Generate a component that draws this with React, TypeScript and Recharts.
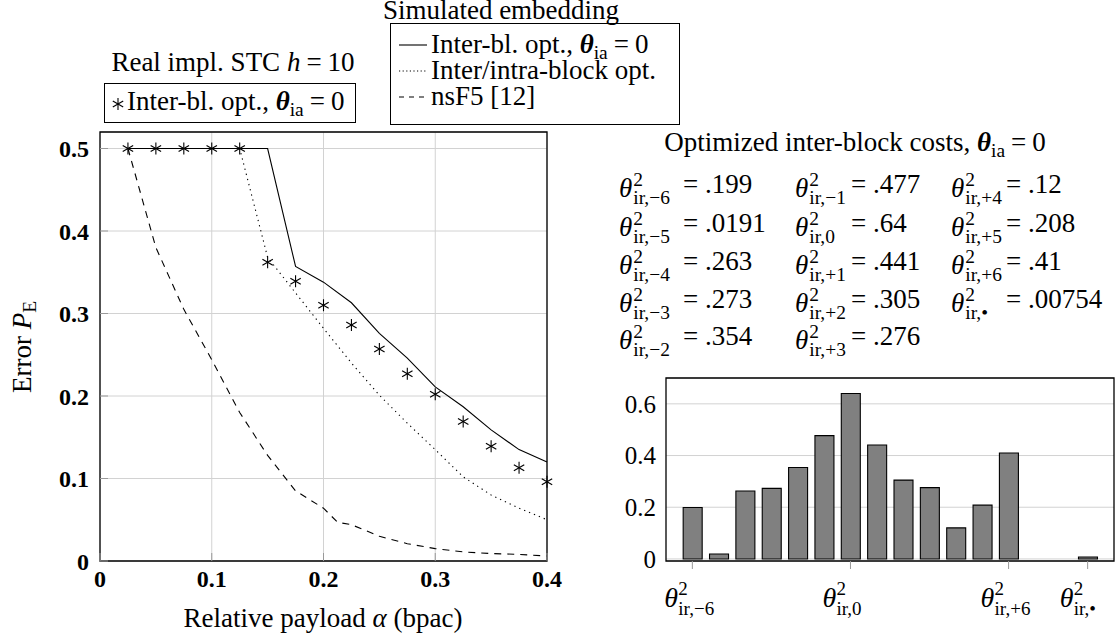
import React from "react";
import {
  Bar,
  BarChart,
  CartesianGrid,
  ComposedChart,
  Line,
  ReferenceArea,
  Scatter,
  XAxis,
  YAxis,
} from "recharts";

const FONT = '"Liberation Serif", "DejaVu Serif", serif';

// left panel: error vs relative payload
const alpha = [0.025, 0.05, 0.075, 0.1, 0.125, 0.15, 0.175, 0.2, 0.225, 0.25, 0.275, 0.3, 0.325, 0.35, 0.375, 0.4];
const interBlSim = [0.5, 0.5, 0.5, 0.5, 0.5, 0.5, 0.357, 0.338, 0.313, 0.276, 0.246, 0.211, 0.187, 0.159, 0.135, 0.12];
const interIntraSim = [0.5, 0.5, 0.5, 0.5, 0.5, 0.368, 0.325, 0.282, 0.24, 0.201, 0.167, 0.135, 0.102, 0.08, 0.064, 0.05];
const interBlReal = [0.5, 0.5, 0.5, 0.5, 0.5, 0.362, 0.339, 0.31, 0.286, 0.257, 0.227, 0.202, 0.169, 0.139, 0.113, 0.096];
const nsf5Alpha = [0.025, 0.05, 0.075, 0.1, 0.125, 0.15, 0.175, 0.2, 0.2125, 0.225, 0.25, 0.275, 0.3, 0.325, 0.35, 0.375, 0.4];
const nsf5 = [0.5, 0.38, 0.305, 0.244, 0.18, 0.128, 0.085, 0.064, 0.047, 0.044, 0.03, 0.021, 0.015, 0.011, 0.009, 0.008, 0.006];
const xTicks = [0, 0.1, 0.2, 0.3, 0.4];
const yTicks = [0, 0.1, 0.2, 0.3, 0.4, 0.5];

// right panel: optimized inter-block costs
const barPos = [-6, -5, -4, -3, -2, -1, 0, 1, 2, 3, 4, 5, 6, 9];
const barSubs = ["−6", "−5", "−4", "−3", "−2", "−1", "0", "+1", "+2", "+3", "+4", "+5", "+6", "•"];
const barValues = [0.199, 0.0191, 0.263, 0.273, 0.354, 0.477, 0.64, 0.441, 0.305, 0.276, 0.12, 0.208, 0.41, 0.00754];
const barTicks = [-6, 0, 6, 9];
const barYTicks = [0, 0.2, 0.4, 0.6];

const pts = (xs: number[], ys: number[]) => xs.map((a, i) => ({ a, p: ys[i] }));
const barData = barPos.map((x, i) => ({ x, v: barValues[i] }));

const colLeft = [619, 795, 951];
const colEq = [683, 851, 1006];
const rowY = [188, 227, 265, 303, 340];

function Asterisk(props: any) {
  const { cx, cy } = props;
  return (
    <g stroke="#000" strokeWidth={1.1}>
      <line x1={cx} y1={cy - 6} x2={cx} y2={cy + 6} />
      <line x1={cx - 5.2} y1={cy - 3} x2={cx + 5.2} y2={cy + 3} />
      <line x1={cx - 5.2} y1={cy + 3} x2={cx + 5.2} y2={cy - 3} />
    </g>
  );
}

function Th({ sub }: { sub: string }) {
  return (
    <span>
      <i>θ</i>
      <span
        style={{
          display: "inline-block",
          verticalAlign: "-0.37em",
          fontSize: "0.72em",
          lineHeight: 0.92,
          marginLeft: 1,
        }}
      >
        <span style={{ display: "block" }}>2</span>
        <span style={{ display: "block" }}>{sub}</span>
      </span>
    </span>
  );
}

const Eq = () => <span style={{ margin: "0 6px" }}>=</span>;

const ThetaIa = () => (
  <span>
    <b>
      <i>θ</i>
    </b>
    <span style={{ fontSize: "0.72em", verticalAlign: "-0.3em" }}>ia</span>
  </span>
);

function At({ x, y, center, children }: { x: number; y: number; center?: boolean; children: React.ReactNode }) {
  return (
    <div
      style={{
        position: "absolute",
        left: x,
        top: y - 17,
        lineHeight: "27px",
        whiteSpace: "nowrap",
        transform: center ? "translateX(-50%)" : undefined,
      }}
    >
      {children}
    </div>
  );
}

function ThetaTick(props: any) {
  const { x, y, payload } = props;
  const i = barPos.indexOf(payload.value);
  return (
    <g fontFamily={FONT} fill="#000">
      <text x={x - 28} y={y + 38} fontSize={28} fontStyle="italic">
        θ
      </text>
      <text x={x - 14} y={y + 26} fontSize={19}>
        2
      </text>
      <text x={x - 14} y={y + 46} fontSize={19}>
        {"ir," + barSubs[i]}
      </text>
    </g>
  );
}

function Sample({ dash }: { dash?: string }) {
  return (
    <svg width={30} height={10} style={{ position: "absolute", left: 8, top: 9 }}>
      <line x1={0} y1={5} x2={28} y2={5} stroke="#000" strokeWidth={1.1} strokeDasharray={dash} />
    </svg>
  );
}

export default function App() {
  return (
    <div
      style={{
        position: "absolute",
        left: 0,
        top: 0,
        width: 1120,
        height: 638,
        background: "#fff",
        fontFamily: FONT,
        fontSize: 27,
        color: "#000",
        overflow: "hidden",
      }}
    >
      {/* left plot */}
      <div style={{ position: "absolute", left: 0, top: 0 }}>
        <ComposedChart width={600} height={638} margin={{ top: 132, right: 53, bottom: 37, left: 0 }}>
          <CartesianGrid stroke="#d2d2d2" strokeWidth={1} />
          <XAxis
            dataKey="a"
            type="number"
            domain={[0, 0.4]}
            ticks={xTicks}
            height={40}
            axisLine={false}
            tickLine={{ stroke: "#999" }}
            tickSize={-8}
            tickMargin={17}
            tick={{ fontSize: 24, fontWeight: 700, fill: "#000", fontFamily: FONT }}
          />
          <YAxis
            type="number"
            domain={[0, 0.52]}
            ticks={yTicks}
            width={100}
            axisLine={false}
            tickLine={{ stroke: "#999" }}
            tickSize={-8}
            tickMargin={19}
            tick={{ fontSize: 24, fontWeight: 700, fill: "#000", fontFamily: FONT }}
          />
          <ReferenceArea x1={0} x2={0.4} y1={0} y2={0.52} fill="none" stroke="#000" strokeWidth={1.3} ifOverflow="visible" />
          <Line data={pts(nsf5Alpha, nsf5)} dataKey="p" type="linear" stroke="#000" strokeWidth={1.1} strokeDasharray="7 6" dot={false} isAnimationActive={false} />
          <Line data={pts(alpha, interIntraSim)} dataKey="p" type="linear" stroke="#000" strokeWidth={1.1} strokeDasharray="1.3 4" dot={false} isAnimationActive={false} />
          <Line data={pts(alpha, interBlSim)} dataKey="p" type="linear" stroke="#000" strokeWidth={1.1} dot={false} isAnimationActive={false} />
          <Scatter data={pts(alpha, interBlReal)} dataKey="p" shape={<Asterisk />} isAnimationActive={false} />
        </ComposedChart>
      </div>

      {/* bar plot */}
      <div style={{ position: "absolute", left: 560, top: 350 }}>
        <BarChart width={560} height={288} data={barData} margin={{ top: 28, right: 6, bottom: 17, left: 0 }}>
          <CartesianGrid stroke="#d2d2d2" vertical={false} />
          <XAxis
            dataKey="x"
            type="number"
            domain={[-7, 10]}
            ticks={barTicks}
            height={60}
            axisLine={false}
            tickLine={{ stroke: "#999" }}
            tickSize={8}
            tickMargin={0}
            tick={<ThetaTick />}
          />
          <XAxis
            xAxisId="top"
            dataKey="x"
            type="number"
            orientation="top"
            domain={[-7, 10]}
            ticks={barTicks}
            height={0}
            axisLine={false}
            tickLine={{ stroke: "#999" }}
            tickSize={8}
            tick={false}
          />
          <YAxis
            type="number"
            domain={[-0.008, 0.7]}
            ticks={barYTicks}
            width={106}
            axisLine={false}
            tickLine={false}
            tickSize={0}
            tickMargin={10}
            tick={{ fontSize: 25, fill: "#000", fontFamily: FONT }}
          />
          <ReferenceArea x1={-7} x2={10} y1={-0.008} y2={0.7} fill="none" stroke="#000" strokeWidth={1.3} ifOverflow="visible" />
          <Bar dataKey="v" barSize={19} fill="#808080" stroke="#000" strokeWidth={1.1} isAnimationActive={false} />
        </BarChart>
      </div>

      {/* titles and legends */}
      <At x={501} y={14} center>
        Simulated embedding
      </At>
      <At x={233} y={66} center>
        Real impl. STC <i>h</i>
        <Eq />
        10
      </At>

      <div style={{ position: "absolute", left: 104, top: 83, width: 250, height: 38, border: "1.3px solid #000" }}>
        <svg width={14} height={14} style={{ position: "absolute", left: 6, top: 13 }}>
          <Asterisk cx={7} cy={7} />
        </svg>
        <div style={{ position: "absolute", left: 22, top: 4, lineHeight: "27px", whiteSpace: "nowrap" }}>
          Inter-bl. opt., <ThetaIa />
          <Eq />0
        </div>
      </div>

      <div style={{ position: "absolute", left: 390, top: 23, width: 288, height: 100, border: "1.3px solid #000" }}>
        <div style={{ position: "absolute", left: 0, top: 7, width: 288, height: 26 }}>
          <Sample />
          <div style={{ position: "absolute", left: 40, top: 0, lineHeight: "27px", whiteSpace: "nowrap" }}>
            Inter-bl. opt., <ThetaIa />
            <Eq />0
          </div>
        </div>
        <div style={{ position: "absolute", left: 0, top: 33, width: 288, height: 26 }}>
          <Sample dash="1.2 2.4" />
          <div style={{ position: "absolute", left: 40, top: 0, lineHeight: "27px", whiteSpace: "nowrap" }}>
            Inter/intra-block opt.
          </div>
        </div>
        <div style={{ position: "absolute", left: 0, top: 59, width: 288, height: 26 }}>
          <Sample dash="5 5" />
          <div style={{ position: "absolute", left: 40, top: 0, lineHeight: "27px", whiteSpace: "nowrap" }}>
            nsF5 [12]
          </div>
        </div>
      </div>

      {/* axis labels */}
      <At x={323} y={622} center>
        Relative payload <i>α</i> (bpac)
      </At>
      <div
        style={{
          position: "absolute",
          left: 26,
          top: 347,
          lineHeight: "27px",
          whiteSpace: "nowrap",
          transform: "translate(-50%, -50%) rotate(-90deg)",
        }}
      >
        Error <i>P</i>
        <span style={{ fontSize: "0.72em", verticalAlign: "-0.3em" }}>E</span>
      </div>

      {/* cost table */}
      <At x={855} y={146} center>
        Optimized inter-block costs, <ThetaIa />
        <Eq />0
      </At>
      {barValues.map((v, i) => {
        const col = Math.floor(i / 5);
        const row = i % 5;
        return (
          <React.Fragment key={i}>
            <At x={colLeft[col]} y={rowY[row]}>
              <Th sub={"ir," + barSubs[i]} />
            </At>
            <At x={colEq[col]} y={rowY[row]}>
              = {String(v).replace(/^0/, "")}
            </At>
          </React.Fragment>
        );
      })}
    </div>
  );
}
